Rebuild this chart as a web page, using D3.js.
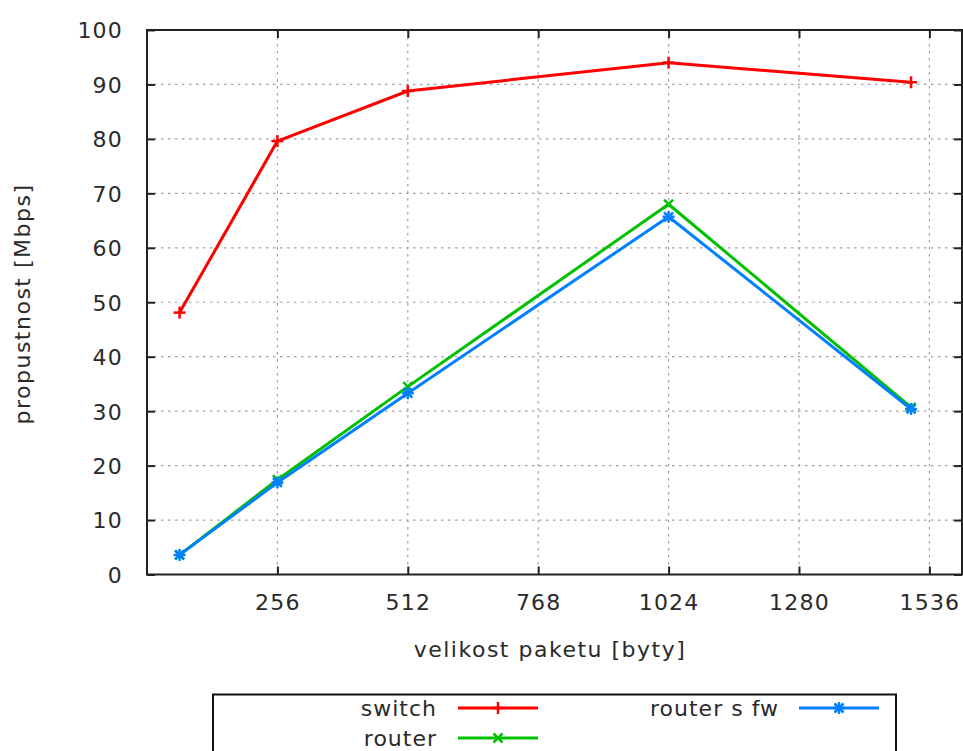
<!DOCTYPE html>
<html>
<head>
<meta charset="utf-8">
<script src="https://cdn.jsdelivr.net/npm/d3@7"></script>
<style>
  html, body { margin: 0; padding: 0; background: #fff; }
  svg text { font-family: "DejaVu Sans", sans-serif; fill: #2a2a2a; }
</style>
</head>
<body>
<svg id="chart" width="963" height="751"></svg>
<script>
// Packet sizes (bytes) and measured throughput (Mbps)
const packetSizes = [64, 256, 512, 1024, 1500];
const switchValues = [48.1, 79.6, 88.8, 94.0, 90.4];
const routerValues = [3.6, 17.4, 34.5, 68.0, 30.7];
const routerFwValues = [3.6, 16.9, 33.3, 65.7, 30.4];

const xTicks = [256, 512, 768, 1024, 1280, 1536];
const yTicks = [0, 10, 20, 30, 40, 50, 60, 70, 80, 90, 100];

const seriesNames = ["switch", "router", "router s fw"];
const seriesColors = ["#ff0000", "#00c000", "#0080ff"];
const seriesSymbols = ["plus", "cross", "star"];

const series = seriesNames.map((name, i) => ({
  name,
  color: seriesColors[i],
  symbol: seriesSymbols[i],
  values: [switchValues, routerValues, routerFwValues][i]
}));

const svg = d3.select("#chart");
const plotLeft = 147, plotRight = 962, plotTop = 30, plotBottom = 574.5;

const x = d3.scaleLinear().domain([0, 1600]).range([plotLeft, plotRight]);
const y = d3.scaleLinear().domain([0, 100]).range([plotBottom, plotTop]);

// Dotted grid
const grid = svg.append("g").attr("stroke", "#a0a0a0").attr("stroke-width", 1.2)
  .attr("stroke-dasharray", "2.5,4.5");
grid.selectAll("line.gx").data(xTicks).join("line")
  .attr("x1", d => x(d)).attr("x2", d => x(d))
  .attr("y1", plotTop).attr("y2", plotBottom);
grid.selectAll("line.gy").data(yTicks.filter(d => d > 0 && d < 100)).join("line")
  .attr("y1", d => y(d)).attr("y2", d => y(d))
  .attr("x1", plotLeft).attr("x2", plotRight);

// Axes with inward ticks, mirrored on the opposite side
const tickLen = 8;
const fmt = d3.format("d");
const axisLeft = svg.append("g").attr("transform", `translate(${plotLeft},0)`)
  .call(d3.axisLeft(y).tickValues(yTicks).tickFormat(fmt).tickSize(-tickLen).tickPadding(24));
const axisRight = svg.append("g").attr("transform", `translate(${plotRight},0)`)
  .call(d3.axisRight(y).tickValues(yTicks).tickSize(-tickLen).tickFormat(""));
const axisBottom = svg.append("g").attr("transform", `translate(0,${plotBottom})`)
  .call(d3.axisBottom(x).tickValues(xTicks).tickFormat(fmt).tickSize(-tickLen).tickPadding(20));
const axisTop = svg.append("g").attr("transform", `translate(0,${plotTop})`)
  .call(d3.axisTop(x).tickValues(xTicks).tickSize(-tickLen).tickFormat(""));

[axisLeft, axisRight, axisBottom, axisTop].forEach(g => {
  g.select(".domain").remove();
  g.selectAll(".tick line").attr("stroke", "#222").attr("stroke-width", 2);
  g.selectAll(".tick text")
    .style("font-size", "22px").style("letter-spacing", "1.2px").attr("fill", "#2a2a2a");
});
axisLeft.selectAll(".tick text").attr("dy", "0.36em");

// Plot border
svg.append("rect")
  .attr("x", plotLeft).attr("y", plotTop)
  .attr("width", plotRight - plotLeft).attr("height", plotBottom - plotTop)
  .attr("fill", "none").attr("stroke", "#222").attr("stroke-width", 2);

// Axis titles
svg.append("text")
  .attr("x", 550).attr("y", 657)
  .attr("text-anchor", "middle")
  .style("font-size", "22px").style("letter-spacing", "1.5px")
  .text("velikost paketu [byty]");
svg.append("text")
  .attr("transform", "translate(30,304) rotate(-90)")
  .attr("text-anchor", "middle")
  .style("font-size", "22px").style("letter-spacing", "1.5px")
  .text("propustnost [Mbps]");

// Point symbols
function drawSymbol(g, type, cx, cy, color, r) {
  const s = g.append("g").attr("stroke", color).attr("stroke-width", 2.5)
    .attr("transform", `translate(${cx},${cy})`);
  if (type === "plus" || type === "star") {
    s.append("line").attr("x1", -r).attr("x2", r).attr("y1", 0).attr("y2", 0);
    s.append("line").attr("x1", 0).attr("x2", 0).attr("y1", -r).attr("y2", r);
  }
  if (type === "cross" || type === "star") {
    const d = r * 0.75;
    s.append("line").attr("x1", -d).attr("x2", d).attr("y1", -d).attr("y2", d);
    s.append("line").attr("x1", -d).attr("x2", d).attr("y1", d).attr("y2", -d);
  }
}

const line = d3.line().x(d => x(d[0])).y(d => y(d[1]));
const plot = svg.append("g");
series.forEach(s => {
  const pts = packetSizes.map((p, i) => [p, s.values[i]]);
  plot.append("path").datum(pts)
    .attr("d", line)
    .attr("fill", "none")
    .attr("stroke", s.color)
    .attr("stroke-width", 3)
    .attr("stroke-linejoin", "round");
  pts.forEach(p => drawSymbol(plot, s.symbol, x(p[0]), y(p[1]), s.color, 6));
});

// Legend
const legend = svg.append("g");
legend.append("rect")
  .attr("x", 213).attr("y", 694.5)
  .attr("width", 683).attr("height", 90)
  .attr("fill", "none").attr("stroke", "#111").attr("stroke-width", 2);

const legendPos = [
  { tx: 437, lx1: 458, lx2: 538, cy: 708 },
  { tx: 437, lx1: 458, lx2: 538, cy: 738 },
  { tx: 779, lx1: 799, lx2: 879, cy: 708 }
];
series.forEach((s, i) => {
  const p = legendPos[i];
  legend.append("text")
    .attr("x", p.tx).attr("y", p.cy).attr("dy", "0.36em")
    .attr("text-anchor", "end")
    .style("font-size", "22px").style("letter-spacing", "1px")
    .text(s.name);
  legend.append("line")
    .attr("x1", p.lx1).attr("x2", p.lx2).attr("y1", p.cy).attr("y2", p.cy)
    .attr("stroke", s.color).attr("stroke-width", 3);
  drawSymbol(legend, s.symbol, (p.lx1 + p.lx2) / 2, p.cy, s.color, 6);
});
</script>
</body>
</html>
